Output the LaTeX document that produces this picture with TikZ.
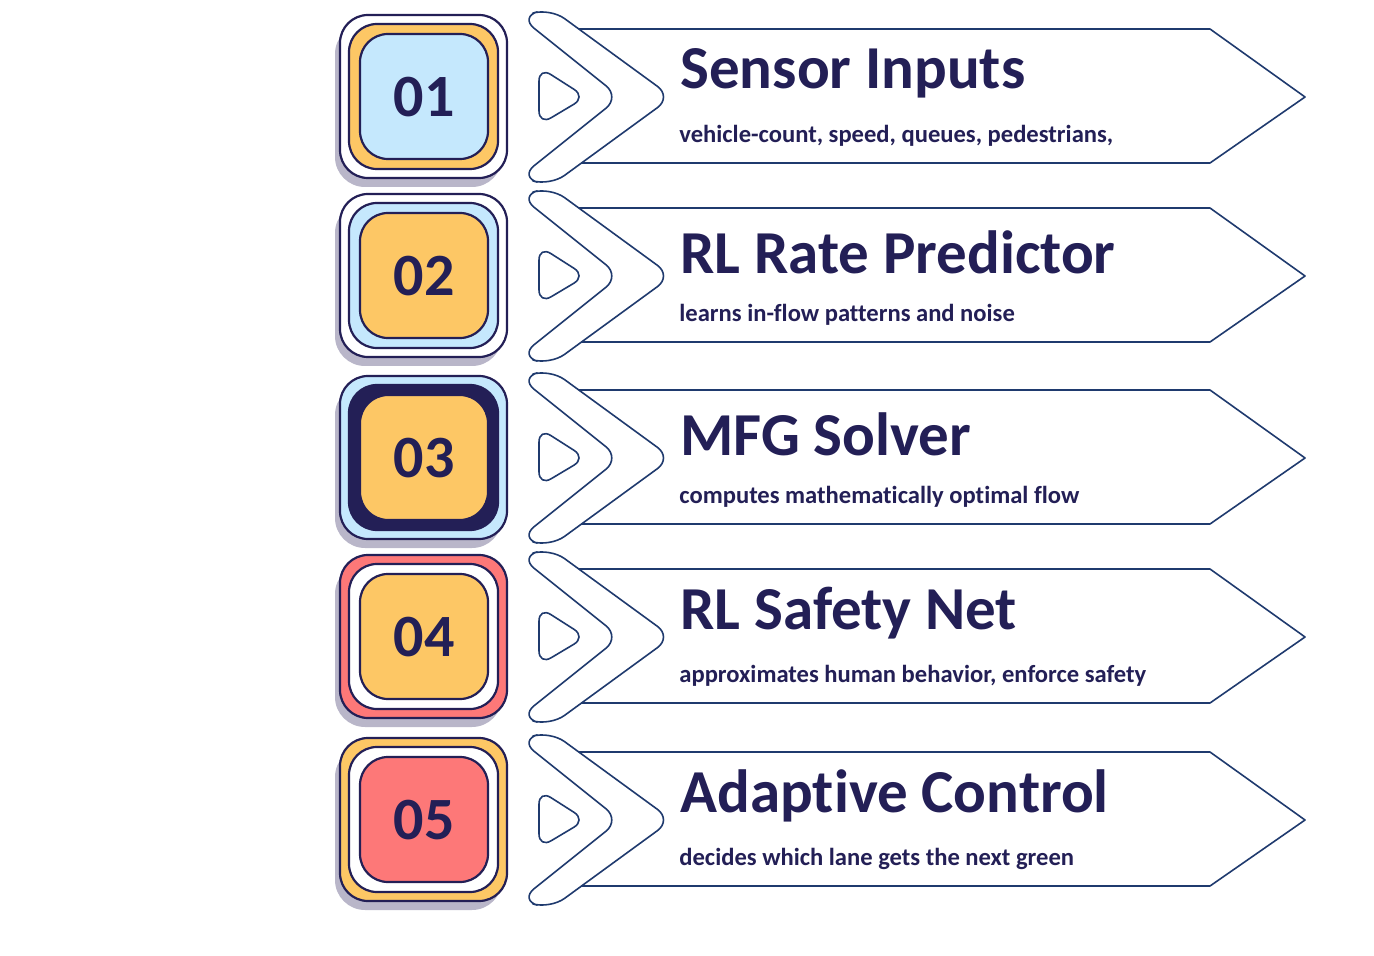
\documentclass[tikz,border=0pt]{standalone}
\usepackage{fontspec}
\setmainfont{Carlito}[Ligatures={NoCommon,NoDiscretionary,NoRare}]
\definecolor{navy}{HTML}{231F56}
\definecolor{lblue}{HTML}{C5E8FD}
\definecolor{orng}{HTML}{FDC765}
\definecolor{pink}{HTML}{FD7878}
\definecolor{shad}{HTML}{B9B6C9}
\definecolor{line}{HTML}{1F3A6E}
\begin{document}
\begin{tikzpicture}[x=0.5pt,y=-0.5pt,
  ring/.style={draw=navy,line width=1.1pt,rounded corners=14pt},
  edge/.style={draw=line,line width=0.8pt,fill=white,line join=round},
  ttl/.style={anchor=west,font=\bfseries\fontsize{30.5}{34}\selectfont,text=navy,inner sep=0},
  sub/.style={anchor=west,font=\bfseries\fontsize{12.3}{14}\selectfont,text=navy,inner sep=0}]
\useasboundingbox (0,0) rectangle (1374,956);
\newcommand{\rowdraw}[8]{%
 \begin{scope}[yshift=-#1*0.5pt]
  \fill[shad,rounded corners=15pt] (335,-73) rectangle (502,90);
  \path[ring,fill=#2] (340,-82) rectangle (507,81);
  \path[ring,fill=#3] (349,-73) rectangle (498,72);
  \path[ring,fill=#4,line width=#8] (360,-63) rectangle (488,62);
  \node[font=\bfseries\fontsize{30}{32}\selectfont,text=navy] (n#5) at (424,0) {#5};
  \fill[white] (560,-68) -- (1210,-68) -- (1305,0) -- (1210,66) -- (560,66) -- cycle;
  \draw[line,line width=0.8pt,line join=round] (560,-68) -- (1210,-68) -- (1305,0) -- (1210,66) -- (560,66);
  \path[edge,rounded corners=9pt] (520,-80) -- (550,-89) -- (672,0) -- (550,89) -- (520,80) -- (620,0) -- cycle;
  \path[edge,rounded corners=7pt] (539,-30) -- (586,0) -- (539,28) -- cycle;
  \node[ttl] (t#5) at (680,-24) {#6};
  \node[sub] (s#5) at (679,39) {#7};
 \end{scope}}
\rowdraw{97}{white}{orng}{lblue}{01}{Sensor Inputs}{vehicle-count, speed, queues, pedestrians,}{1.1pt}
\rowdraw{276}{white}{lblue}{orng}{02}{RL Rate Predictor}{learns in-flow patterns and noise}{1.1pt}
\rowdraw{458}{lblue}{navy}{orng}{03}{MFG Solver}{computes mathematically optimal flow}{1.1pt}
\rowdraw{637}{pink}{white}{orng}{04}{RL Safety Net}{approximates human behavior, enforce safety}{1.1pt}
\rowdraw{820}{orng}{white}{pink}{05}{Adaptive Control}{decides which lane gets the next green}{1.1pt}
\end{tikzpicture}
\end{document}
